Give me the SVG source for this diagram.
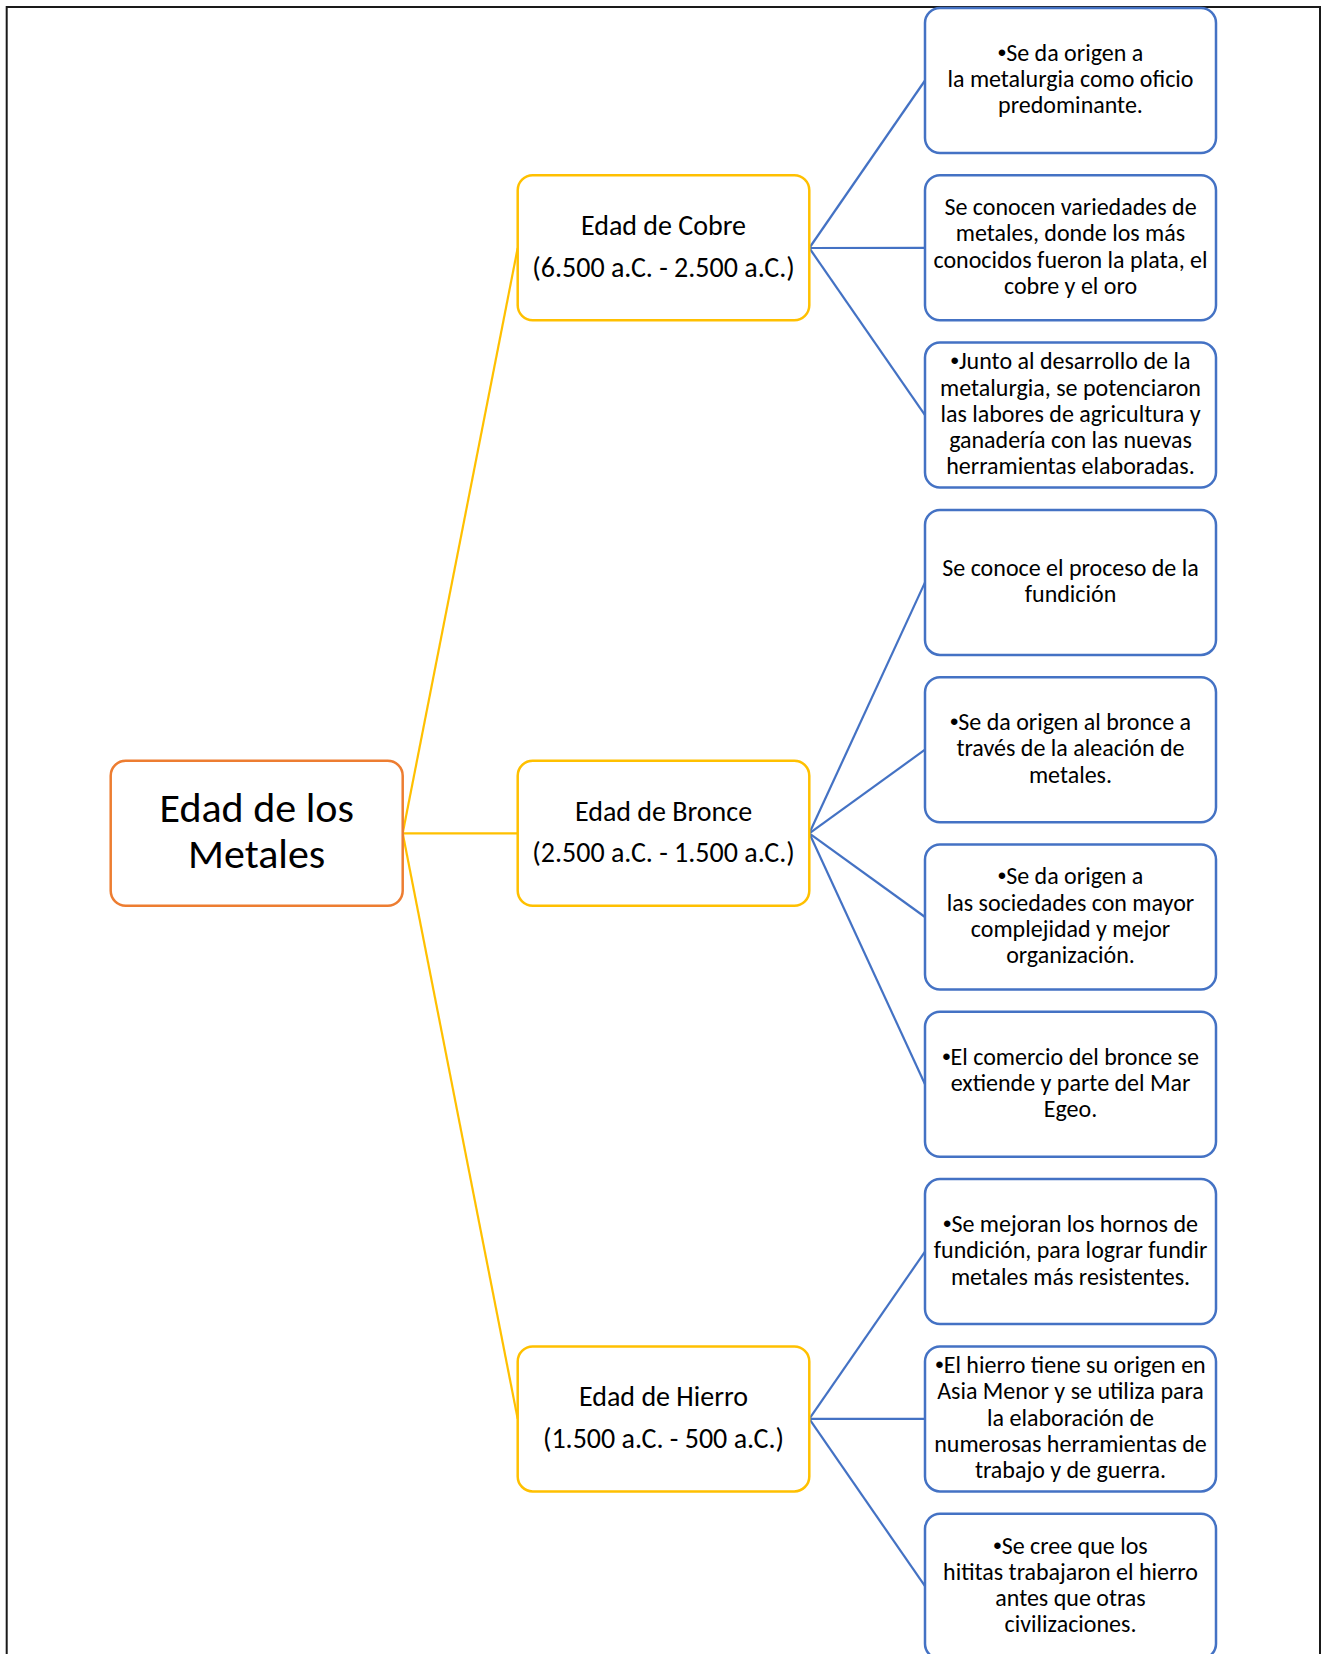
<svg xmlns="http://www.w3.org/2000/svg" width="1321" height="1654" viewBox="0 0 1321 1654">
<style>
.bg{fill:#ffffff}
.frame{fill:none;stroke:#1a1a1a;stroke-width:2}
.root{fill:#ffffff;stroke:#ED7D31;stroke-width:2.5}
.era{fill:#ffffff;stroke:#FFC000;stroke-width:2.5}
.fact{fill:#ffffff;stroke:#4472C4;stroke-width:2.5}
.cy{fill:none;stroke:#FFC000;stroke-width:2.2}
.cb{fill:none;stroke:#4472C4;stroke-width:2.2}
text{font-family:Carlito,Calibri,Lato,"Liberation Sans",sans-serif;fill:#000000;text-anchor:middle}
.t1{font-size:42px}
.t2{font-size:28px}
.t3{font-size:24px}
.b{font-family:"Liberation Sans",Arial,sans-serif}
</style>
<rect class="bg" x="0" y="0" width="1321" height="1654"/>
<path class="frame" d="M6.7,1660 L6.7,7 L1320,7 L1320,1660"/>
<g id="connectors">
<line class="cy" x1="402.7" y1="833.3" x2="517.7" y2="248"/>
<line class="cy" x1="402.7" y1="833.3" x2="517.7" y2="833.3"/>
<line class="cy" x1="402.7" y1="833.3" x2="517.7" y2="1418.9"/>
<line class="cb" x1="809.3" y1="248" x2="925" y2="80.5"/>
<line class="cb" x1="809.3" y1="248" x2="925" y2="247.8"/>
<line class="cb" x1="809.3" y1="248" x2="925" y2="415.1"/>
<line class="cb" x1="809.3" y1="833.3" x2="925" y2="582.4"/>
<line class="cb" x1="809.3" y1="833.3" x2="925" y2="749.7"/>
<line class="cb" x1="809.3" y1="833.3" x2="925" y2="917"/>
<line class="cb" x1="809.3" y1="833.3" x2="925" y2="1084.3"/>
<line class="cb" x1="809.3" y1="1418.9" x2="925" y2="1251.6"/>
<line class="cb" x1="809.3" y1="1418.9" x2="925" y2="1418.9"/>
<line class="cb" x1="809.3" y1="1418.9" x2="925" y2="1586.2"/>
</g>
<g id="root">
<rect class="root" x="110.7" y="760.8" width="292" height="145" rx="15"/>
<text class="t1" x="256.7"><tspan x="256.7" y="822">Edad de los</tspan><tspan x="256.7" y="868">Metales</tspan></text>
</g>
<g id="cobre">
<rect class="era" x="517.7" y="175.3" width="291.6" height="145" rx="15"/>
<text class="t2"><tspan x="663.5" y="235.3">Edad de Cobre</tspan><tspan x="663.5" y="276.7">(6.500 a.C. - 2.500 a.C.)</tspan></text>
</g>
<g id="bronce">
<rect class="era" x="517.7" y="760.8" width="291.6" height="145" rx="15"/>
<text class="t2"><tspan x="663.5" y="820.6">Edad de Bronce</tspan><tspan x="663.5" y="862">(2.500 a.C. - 1.500 a.C.)</tspan></text>
</g>
<g id="hierro">
<rect class="era" x="517.7" y="1346.4" width="291.6" height="145" rx="15"/>
<text class="t2"><tspan x="663.5" y="1406.2">Edad de Hierro</tspan><tspan x="663.5" y="1447.6">(1.500 a.C. - 500 a.C.)</tspan></text>
</g>
<g id="f1">
<rect class="fact" x="925" y="8" width="291" height="145" rx="15"/>
<text class="t3"><tspan x="1070.5" y="61"><tspan class="b">•</tspan>Se da origen a</tspan><tspan x="1070.5" y="87.2">la metalurgia como oficio</tspan><tspan x="1070.5" y="113.4">predominante.</tspan></text>
</g>
<g id="f2">
<rect class="fact" x="925" y="175.3" width="291" height="145" rx="15"/>
<text class="t3"><tspan x="1070.5" y="215.2">Se conocen variedades de</tspan><tspan x="1070.5" y="241.4">metales, donde los más</tspan><tspan x="1070.5" y="267.6">conocidos fueron la plata, el</tspan><tspan x="1070.5" y="293.8">cobre y el oro</tspan></text>
</g>
<g id="f3">
<rect class="fact" x="925" y="342.6" width="291" height="145" rx="15"/>
<text class="t3"><tspan x="1070.5" y="369.4"><tspan class="b">•</tspan>Junto al desarrollo de la</tspan><tspan x="1070.5" y="395.6">metalurgia, se potenciaron</tspan><tspan x="1070.5" y="421.8">las labores de agricultura y</tspan><tspan x="1070.5" y="448">ganadería con las nuevas</tspan><tspan x="1070.5" y="474.2">herramientas elaboradas.</tspan></text>
</g>
<g id="f4">
<rect class="fact" x="925" y="509.9" width="291" height="145" rx="15"/>
<text class="t3"><tspan x="1070.5" y="576">Se conoce el proceso de la</tspan><tspan x="1070.5" y="602.2">fundición</tspan></text>
</g>
<g id="f5">
<rect class="fact" x="925" y="677.2" width="291" height="145" rx="15"/>
<text class="t3"><tspan x="1070.5" y="730.2"><tspan class="b">•</tspan>Se da origen al bronce a</tspan><tspan x="1070.5" y="756.4">través de la aleación de</tspan><tspan x="1070.5" y="782.6">metales.</tspan></text>
</g>
<g id="f6">
<rect class="fact" x="925" y="844.5" width="291" height="145" rx="15"/>
<text class="t3"><tspan x="1070.5" y="884.4"><tspan class="b">•</tspan>Se da origen a</tspan><tspan x="1070.5" y="910.6">las sociedades con mayor</tspan><tspan x="1070.5" y="936.8">complejidad y mejor</tspan><tspan x="1070.5" y="963">organización.</tspan></text>
</g>
<g id="f7">
<rect class="fact" x="925" y="1011.8" width="291" height="145" rx="15"/>
<text class="t3"><tspan x="1070.5" y="1064.8"><tspan class="b">•</tspan>El comercio del bronce se</tspan><tspan x="1070.5" y="1091">extiende y parte del Mar</tspan><tspan x="1070.5" y="1117.2">Egeo.</tspan></text>
</g>
<g id="f8">
<rect class="fact" x="925" y="1179.1" width="291" height="145" rx="15"/>
<text class="t3"><tspan x="1070.5" y="1232.1"><tspan class="b">•</tspan>Se mejoran los hornos de</tspan><tspan x="1070.5" y="1258.3">fundición, para lograr fundir</tspan><tspan x="1070.5" y="1284.5">metales más resistentes.</tspan></text>
</g>
<g id="f9">
<rect class="fact" x="925" y="1346.4" width="291" height="145" rx="15"/>
<text class="t3"><tspan x="1070.5" y="1373.2"><tspan class="b">•</tspan>El hierro tiene su origen en</tspan><tspan x="1070.5" y="1399.4">Asia Menor y se utiliza para</tspan><tspan x="1070.5" y="1425.6">la elaboración de</tspan><tspan x="1070.5" y="1451.8">numerosas herramientas de</tspan><tspan x="1070.5" y="1478">trabajo y de guerra.</tspan></text>
</g>
<g id="f10">
<rect class="fact" x="925" y="1513.7" width="291" height="145" rx="15"/>
<text class="t3"><tspan x="1070.5" y="1553.6"><tspan class="b">•</tspan>Se cree que los</tspan><tspan x="1070.5" y="1579.8">hititas trabajaron el hierro</tspan><tspan x="1070.5" y="1606">antes que otras</tspan><tspan x="1070.5" y="1632.2">civilizaciones.</tspan></text>
</g>
</svg>
